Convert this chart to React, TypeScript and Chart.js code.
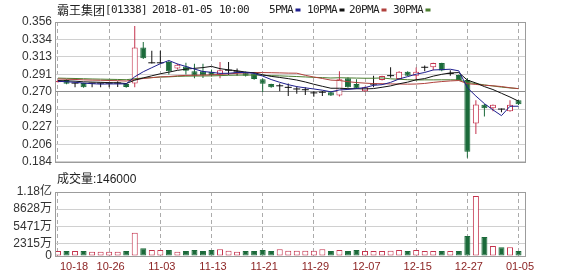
import React, { useEffect, useRef } from 'react';
import { Chart, registerables } from 'chart.js';

Chart.register(...registerables);

// ---------- data ----------
const stockName = '霸王集团';
const stockCode = '01338';
const dateText = '2018-01-05';
const timeText = '10:00';
const volumeTitle = '成交量:146000';

const maNames = ['5PMA', '10PMA', '20PMA', '30PMA'];

const dateLabels = ['10-18', '10-26', '11-03', '11-13', '11-21', '11-29', '12-07', '12-15', '12-27', '01-05'];
const dateTickIndex = [0, 6, 12, 18, 24, 30, 36, 42, 48, 54];

const opens = [
  0.2820, 0.2847, 0.2808, 0.2808, 0.2808, 0.2808, 0.2808, 0.2810, 0.2796, 0.2804,
  0.3246, 0.3058, 0.3058, 0.3067, 0.2987, 0.3011, 0.2955, 0.2955, 0.2947, 0.2915,
  0.2967, 0.2947, 0.2939, 0.2927, 0.2855, 0.2796, 0.2775, 0.2756, 0.2736, 0.2727,
  0.2688, 0.2696, 0.2696, 0.2656, 0.2867, 0.2796, 0.2708, 0.2796, 0.2847, 0.2900,
  0.2859, 0.2947, 0.2900, 0.3003, 0.3003, 0.3055, 0.2927, 0.2907, 0.2847, 0.2310,
  0.2541, 0.2500, 0.2492, 0.2461, 0.2596,
];
const highs = [
  0.2845, 0.2855, 0.2812, 0.2812, 0.2812, 0.2812, 0.2812, 0.2830, 0.2800, 0.3512,
  0.3313, 0.3205, 0.3205, 0.3086, 0.3045, 0.3058, 0.3046, 0.3046, 0.2975, 0.3067,
  0.3067, 0.2987, 0.2950, 0.2940, 0.2865, 0.2800, 0.2804, 0.2804, 0.2768, 0.2756,
  0.2708, 0.2710, 0.2705, 0.2955, 0.2880, 0.2855, 0.2765, 0.2900, 0.2900, 0.3003,
  0.2955, 0.2955, 0.2999, 0.3026, 0.3060, 0.3060, 0.2967, 0.2915, 0.2867, 0.2596,
  0.2550, 0.2545, 0.2495, 0.2596, 0.2600,
];
const lows = [
  0.2815, 0.2795, 0.2756, 0.2752, 0.2756, 0.2756, 0.2756, 0.2760, 0.2752, 0.2756,
  0.3106, 0.3050, 0.3045, 0.2915, 0.2975, 0.2915, 0.2867, 0.2870, 0.2890, 0.2867,
  0.2907, 0.2900, 0.2890, 0.2850, 0.2700, 0.2750, 0.2708, 0.2649, 0.2676, 0.2661,
  0.2640, 0.2650, 0.2650, 0.2644, 0.2750, 0.2735, 0.2700, 0.2756, 0.2840, 0.2875,
  0.2850, 0.2895, 0.2847, 0.2955, 0.2967, 0.2955, 0.2900, 0.2840, 0.1891, 0.2183,
  0.2398, 0.2461, 0.2449, 0.2455, 0.2540,
];
const closes = [
  0.2835, 0.2800, 0.2808, 0.2756, 0.2808, 0.2808, 0.2808, 0.2810, 0.2760, 0.3246,
  0.3115, 0.3058, 0.3058, 0.2955, 0.3035, 0.2959, 0.2900, 0.2905, 0.2907, 0.2967,
  0.2967, 0.2947, 0.2900, 0.2859, 0.2800, 0.2756, 0.2775, 0.2756, 0.2736, 0.2727,
  0.2688, 0.2696, 0.2656, 0.2855, 0.2756, 0.2740, 0.2756, 0.2796, 0.2895, 0.2900,
  0.2947, 0.2900, 0.2947, 0.3003, 0.3055, 0.2963, 0.2927, 0.2847, 0.1963, 0.2545,
  0.2500, 0.2541, 0.2489, 0.2541, 0.2548,
];

const ma5 = [
  0.2830, 0.2825, 0.2818, 0.2808, 0.2801, 0.2796, 0.2798, 0.2798, 0.2799, 0.2886,
  0.2948, 0.2998, 0.3047, 0.3086, 0.3044, 0.3013, 0.2981, 0.2951, 0.2941, 0.2928,
  0.2929, 0.2939, 0.2938, 0.2928, 0.2895, 0.2852, 0.2818, 0.2789, 0.2765, 0.2750,
  0.2736, 0.2721, 0.2701, 0.2724, 0.2730, 0.2741, 0.2753, 0.2781, 0.2789, 0.2817,
  0.2859, 0.2888, 0.2918, 0.2939, 0.2970, 0.2974, 0.2979, 0.2959, 0.2751, 0.2649,
  0.2556, 0.2479, 0.2408, 0.2523, 0.2524,
];
const ma10 = [
  0.2840, 0.2836, 0.2832, 0.2824, 0.2821, 0.2818, 0.2814, 0.2811, 0.2803, 0.2844,
  0.2872, 0.2898, 0.2923, 0.2943, 0.2965, 0.2980, 0.2990, 0.2999, 0.3014, 0.2986,
  0.2971, 0.2960, 0.2944, 0.2935, 0.2911, 0.2891, 0.2878, 0.2863, 0.2846, 0.2822,
  0.2794, 0.2769, 0.2745, 0.2745, 0.2740, 0.2739, 0.2737, 0.2741, 0.2757, 0.2774,
  0.2800, 0.2820, 0.2849, 0.2864, 0.2894, 0.2916, 0.2933, 0.2938, 0.2845, 0.2810,
  0.2765, 0.2729, 0.2683, 0.2637, 0.2586,
];
const ma20 = [
  0.2859, 0.2856, 0.2853, 0.2848, 0.2845, 0.2843, 0.2840, 0.2838, 0.2833, 0.2852,
  0.2865, 0.2875, 0.2885, 0.2889, 0.2898, 0.2903, 0.2905, 0.2907, 0.2910, 0.2915,
  0.2922, 0.2929, 0.2934, 0.2939, 0.2938, 0.2936, 0.2934, 0.2931, 0.2930, 0.2904,
  0.2883, 0.2865, 0.2845, 0.2840, 0.2826, 0.2815, 0.2808, 0.2802, 0.2801, 0.2798,
  0.2797, 0.2795, 0.2797, 0.2804, 0.2817, 0.2827, 0.2835, 0.2840, 0.2801, 0.2792,
  0.2782, 0.2775, 0.2766, 0.2751, 0.2740,
];
const ma30 = [
  0.2870, 0.2867, 0.2865, 0.2862, 0.2859, 0.2857, 0.2855, 0.2853, 0.2850, 0.2862,
  0.2870, 0.2876, 0.2883, 0.2885, 0.2891, 0.2894, 0.2895, 0.2896, 0.2897, 0.2900,
  0.2904, 0.2906, 0.2907, 0.2907, 0.2904, 0.2900, 0.2897, 0.2893, 0.2889, 0.2884,
  0.2879, 0.2876, 0.2871, 0.2874, 0.2872, 0.2870, 0.2868, 0.2868, 0.2872, 0.2861,
  0.2855, 0.2850, 0.2846, 0.2848, 0.2848, 0.2849, 0.2849, 0.2848, 0.2816, 0.2802,
  0.2786, 0.2773, 0.2759, 0.2749, 0.2740,
];

// volume in 万 (10,000 shares)
const volumesWan = [
  920, 920, 920, 920, 800, 800, 800, 800, 920, 4290,
  1410, 1100, 1100, 1100, 800, 920, 1100, 920, 1100, 1230,
  980, 800, 920, 920, 1100, 920, 1230, 980, 980, 980,
  980, 1230, 920, 1100, 920, 1100, 920, 920, 920, 980,
  1100, 920, 1100, 920, 920, 920, 920, 920, 3680, 11040,
  3500, 1840, 1600, 1600, 920,
];

const priceTicks = [0.184, 0.2055, 0.227, 0.2485, 0.27, 0.2915, 0.313, 0.3345, 0.356];
const priceTickLabels = ['0.184', '0.206', '0.227', '0.249', '0.270', '0.291', '0.313', '0.334', '0.356'];
const volTicks = [0, 2315, 5471, 8628, 11785];
const volTickLabels = ['0', '2315万', '5471万', '8628万', '1.18亿'];

// ---------- styles ----------
const UP = '#c4334d';
const DOWN = '#1b6a3a';
const DOJI = '#111111';
const MA_COLORS = ['#1e1e8e', '#111111', '#b0403c', '#4a7d2e'];
const FONT_SANS = "'Liberation Sans', Arial, 'Noto Sans CJK SC', sans-serif";
const FONT_CJK = "'Noto Sans CJK SC', sans-serif";
const FONT_MONO = "'DejaVu Sans Mono', monospace";
const X_MIN = -0.35;
const X_MAX = 54.76;
const AXIS_W = 55;
const RIGHT_PAD = 53;

function kindOf(i: number) {
  const d = closes[i] - opens[i];
  if (Math.abs(d) < 0.0005) return 'doji';
  return d > 0 ? 'up' : 'down';
}

const framePlugin = {
  id: 'frame',
  afterDraw(chart: any) {
    const { ctx, chartArea: a } = chart;
    ctx.save();
    ctx.strokeStyle = '#9c9c9c';
    ctx.lineWidth = 1;
    const l = Math.round(a.left) + 0.5;
    const r = Math.round(a.right) + 0.5;
    const t = Math.round(a.top) + 0.5;
    const b = Math.round(a.bottom) + 0.5;
    ctx.strokeRect(l, t, r - l, b - t);
    ctx.restore();
  },
};

const titlePlugin = {
  id: 'titleText',
  afterDraw(chart: any) {
    const ctx = chart.ctx;
    ctx.save();
    ctx.textBaseline = 'middle';
    ctx.textAlign = 'left';
    ctx.fillStyle = '#222';
    ctx.font = `12px ${FONT_CJK}`;
    ctx.fillText(stockName, 57, 10);
    ctx.font = `11px ${FONT_MONO}`;
    (ctx as any).letterSpacing = '-0.62px';
    ctx.fillText(`[${stockCode}]`, 105, 10);
    ctx.fillText(dateText, 152, 10);
    ctx.fillText(timeText, 219, 10);
    const xs = [269, 307, 349, 393];
    maNames.forEach((n, k) => {
      ctx.fillStyle = '#222';
      ctx.fillText(n, xs[k], 10);
      ctx.fillStyle = MA_COLORS[k];
      ctx.fillRect(xs[k] + n.length * 6 + 2.5, 8.5, 5, 3);
    });
    ctx.restore();
  },
};

const volumeTextPlugin = {
  id: 'volText',
  afterDraw(chart: any) {
    const ctx = chart.ctx;
    const xs = chart.scales.x;
    ctx.save();
    ctx.textBaseline = 'middle';
    ctx.fillStyle = '#222';
    ctx.font = `12px ${FONT_SANS}`;
    ctx.textAlign = 'left';
    ctx.fillText(volumeTitle, 57, 10);
    ctx.font = `11px ${FONT_SANS}`;
    ctx.fillStyle = '#8c2424';
    dateTickIndex.forEach((v, k) => {
      const px = xs.getPixelForValue(v);
      if (k === 0) {
        ctx.textAlign = 'left';
        ctx.fillText(dateLabels[k], px + 2, 96.5);
      } else {
        ctx.textAlign = 'center';
        ctx.fillText(dateLabels[k], px + 1.5, 96.5);
      }
    });
    ctx.restore();
  },
};

function xScale() {
  return {
    type: 'linear',
    min: X_MIN,
    max: X_MAX,
    offset: false,
    afterBuildTicks: (s: any) => {
      s.ticks = dateTickIndex.map((v) => ({ value: v }));
    },
    afterFit: (s: any) => {
      s.height = 0;
    },
    ticks: { display: false },
    grid: { color: '#ababab', drawTicks: false, offset: false, lineWidth: 1 },
    border: { display: false, dash: [4, 3] },
  };
}

export default function App() {
  const priceRef = useRef<HTMLCanvasElement>(null);
  const volRef = useRef<HTMLCanvasElement>(null);

  useEffect(() => {
    const idx = closes.map((_, i) => i);
    const kinds = idx.map(kindOf);
    const bodyIdx = idx.filter((i) => kinds[i] !== 'doji');
    const dojiIdx = idx.filter((i) => kinds[i] === 'doji');
    const mas = [ma5, ma10, ma20, ma30];

    const priceChart = new Chart(priceRef.current as HTMLCanvasElement, {
      type: 'bar',
      data: {
        datasets: [
          ...mas.map((arr, k) => ({
            type: 'line' as const,
            label: maNames[k],
            data: idx.map((i) => ({ x: i, y: arr[i] })),
            borderColor: MA_COLORS[k],
            borderWidth: 1,
            pointRadius: 0,
            tension: 0,
            fill: false,
            order: 0,
          })),
          {
            type: 'line' as const,
            label: 'doji',
            data: dojiIdx.map((i) => ({ x: i, y: closes[i] })),
            showLine: false,
            pointStyle: 'line',
            pointRadius: 3.5,
            pointBorderColor: DOJI,
            pointBorderWidth: 1,
            order: 1,
          },
          {
            type: 'bar' as const,
            label: 'body',
            data: bodyIdx.map((i) => ({ x: i, y: [opens[i], closes[i]] })),
            backgroundColor: bodyIdx.map((i) => (kinds[i] === 'up' ? '#ffffff' : DOWN)),
            borderColor: bodyIdx.map((i) => (kinds[i] === 'up' ? UP : DOWN)),
            borderWidth: 1,
            borderSkipped: false,
            barThickness: 6,
            grouped: false,
            inflateAmount: 0,
            order: 2,
          },
          {
            type: 'bar' as const,
            label: 'wick',
            data: idx.map((i) => ({ x: i, y: [lows[i], highs[i]] })),
            backgroundColor: idx.map((i) => (kinds[i] === 'up' ? UP : kinds[i] === 'down' ? DOWN : DOJI)),
            borderWidth: 0,
            barThickness: 1,
            grouped: false,
            inflateAmount: 0,
            order: 3,
          },
        ] as any,
      },
      options: {
        responsive: false,
        animation: false,
        events: [],
        layout: { padding: { left: 0, right: RIGHT_PAD, top: 22, bottom: 6 } },
        plugins: { legend: { display: false }, tooltip: { enabled: false } },
        scales: {
          x: xScale() as any,
          y: {
            type: 'linear',
            min: 0.184,
            max: 0.356,
            afterBuildTicks: (s: any) => {
              s.ticks = priceTicks.map((v) => ({ value: v }));
            },
            afterFit: (s: any) => {
              s.width = AXIS_W;
            },
            ticks: {
              autoSkip: false,
              padding: 3,
              color: '#333',
              font: { family: FONT_SANS, size: 12 },
              callback: (_v: any, i: number) => priceTickLabels[i],
            },
            grid: {
              drawTicks: false,
              color: (c: any) => (c.tick && Math.abs(c.tick.value - 0.27) < 1e-6 ? '#8e8e8e' : '#d0d0d0'),
            },
            border: { display: false },
          } as any,
        },
      },
      plugins: [framePlugin, titlePlugin],
    });

    const volChart = new Chart(volRef.current as HTMLCanvasElement, {
      type: 'bar',
      data: {
        datasets: [
          {
            label: 'volume',
            data: idx.map((i) => ({ x: i, y: volumesWan[i] })),
            backgroundColor: idx.map((i) => (closes[i] >= opens[i] ? '#ffffff' : DOWN)),
            borderColor: idx.map((i) => (closes[i] >= opens[i] ? UP : DOWN)),
            borderWidth: 1,
            borderSkipped: false,
            barThickness: 6,
            inflateAmount: 0,
          },
        ] as any,
      },
      options: {
        responsive: false,
        animation: false,
        events: [],
        layout: { padding: { left: 0, right: RIGHT_PAD, top: 22, bottom: 20 } },
        plugins: { legend: { display: false }, tooltip: { enabled: false } },
        scales: {
          x: xScale() as any,
          y: {
            type: 'linear',
            min: 0,
            max: 11785,
            afterBuildTicks: (s: any) => {
              s.ticks = volTicks.map((v) => ({ value: v }));
            },
            afterFit: (s: any) => {
              s.width = AXIS_W;
            },
            ticks: {
              autoSkip: false,
              padding: 3,
              color: '#333',
              font: { family: FONT_SANS, size: 12 },
              callback: (_v: any, i: number) => volTickLabels[i],
            },
            grid: { drawTicks: false, color: '#d0d0d0' },
            border: { display: false },
          } as any,
        },
      },
      plugins: [framePlugin, volumeTextPlugin],
    });

    return () => {
      priceChart.destroy();
      volChart.destroy();
    };
  }, []);

  return (
    <div style={{ position: 'fixed', left: 0, top: 0, width: 578, height: 276, background: '#fff' }}>
      <canvas
        ref={priceRef}
        width={578}
        height={172}
        style={{ position: 'absolute', left: 0, top: 0, width: 578, height: 172 }}
      />
      <canvas
        ref={volRef}
        width={578}
        height={106}
        style={{ position: 'absolute', left: 0, top: 170, width: 578, height: 106 }}
      />
    </div>
  );
}
